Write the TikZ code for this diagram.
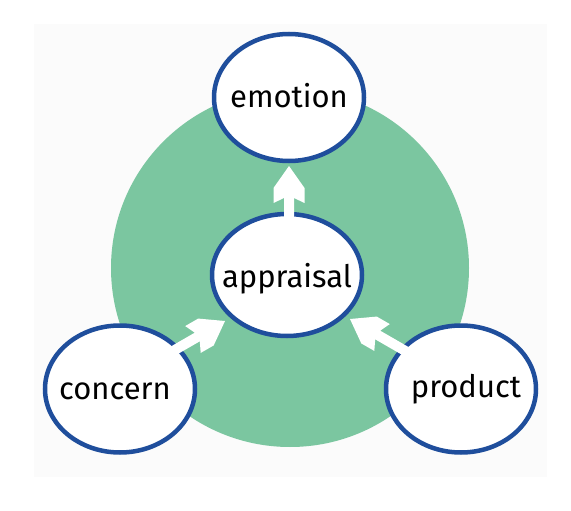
\documentclass[tikz,border=0pt]{standalone}
\usepackage{fontspec}
\setmainfont{Fira Sans}
\usetikzlibrary{shapes.geometric,calc}
\definecolor{bgrey}{HTML}{FBFBFB}
\definecolor{ringgreen}{HTML}{7BC6A0}
\definecolor{ringblue}{HTML}{1F4E9C}
\tikzset{
  bubble/.style={ellipse, draw=ringblue, line width=4.5pt, fill=white,
    minimum width=150pt, minimum height=127pt, inner sep=0pt, outer sep=0pt,
    text height=20pt, text depth=0pt, font=\fontsize{31}{36}\selectfont},
  fatarrowfill/.style={fill=white}
}
\newcommand\fatarrow[3]{\fill[fatarrowfill, shift={(#1)}, rotate=#2]
  (0,0) -- (-22,15.5) -- (-37,15.5) -- (-32,5) -- (-#3,5) -- (-#3,-5)
  -- (-32,-5) -- (-37,-15.5) -- (-22,-15.5) -- cycle;}
\begin{document}
\begin{tikzpicture}[x=1pt,y=-1pt]
\useasboundingbox (0,0) rectangle (571,511);
\fill[white] (0,0) rectangle (571,511);
\fill[bgrey] (34,24) rectangle (547,477);
\fill[ringgreen] (290,268) circle[radius=179];
\node[bubble, minimum height=122pt, text height=24pt] (appraisal) at (287,275) {\makebox[0pt]{appraisal}};
\node[bubble] (emotion) at (289,97.5) {\makebox[0pt]{emotion}};
\node[bubble] (concern) at (120,389) {\makebox[0pt]{concern\hspace{10pt}}};
\node[bubble, text height=16pt] (product) at (461,389) {\makebox[0pt]{\hspace{10pt}product}};
\coordinate (tipE) at ($(emotion.south)+(0,5)$);
\coordinate (tipC) at (225,321);
\coordinate (tipP) at (350,319);
\fatarrow{tipE}{90}{52}
\fatarrow{tipC}{30}{62}
\fatarrow{tipP}{150}{66}
\end{tikzpicture}
\end{document}
